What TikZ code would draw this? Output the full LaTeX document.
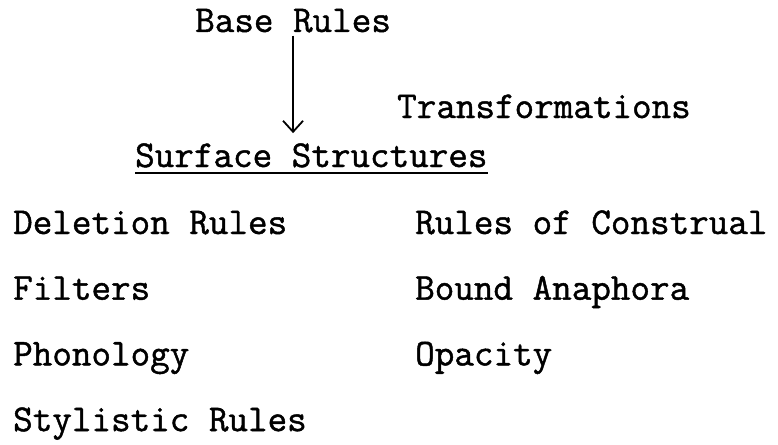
\documentclass[tikz,border=0pt]{standalone}
\usepackage{fontspec}
\setmonofont{Latin Modern Mono}[FakeBold=1.2]
\usetikzlibrary{arrows.meta,calc}
\tikzset{>={Straight Barb[length=11pt,width=20pt]}}
\tikzstyle{typed}=[inner sep=0pt,anchor=base west,font=\fontsize{38}{44}\selectfont\ttfamily]
\tikzstyle{derive}=[->,line width=1.8pt]
\tikzstyle{underl}=[line width=1.8pt]

\begin{document}
\begin{tikzpicture}[x=1pt,y=-1pt]
\def \colA {13};
\def \colB {415};
\def \firstrow {234};
\def \rowsep {65.7};

\useasboundingbox (0,0) rectangle (778,444);

\node[typed] (base) at (195,32) {Base Rules};
\node[typed] (trans) at (397,118) {Transformations};
\node[typed] (surf) at (135,167) {Surface Structures};

\draw[underl] ([yshift=-6pt]surf.base west) -- ([yshift=-6pt]surf.base east);
\draw[derive,shorten <=3pt,shorten >=10pt] (base.south) -- (base.south |- surf.north);

% left column
\foreach \t [count=\i from 0] in {Deletion Rules,Filters,Phonology,Stylistic Rules} {
	\node[typed] (left\i) at ({\colA},{\firstrow + \i*\rowsep}) {\t};
};

% right column
\foreach \t [count=\i from 0] in {Rules of Construal,Bound Anaphora,Opacity} {
	\node[typed] (right\i) at ({\colB},{\firstrow + \i*\rowsep}) {\t};
};

\end{tikzpicture}
\end{document}
